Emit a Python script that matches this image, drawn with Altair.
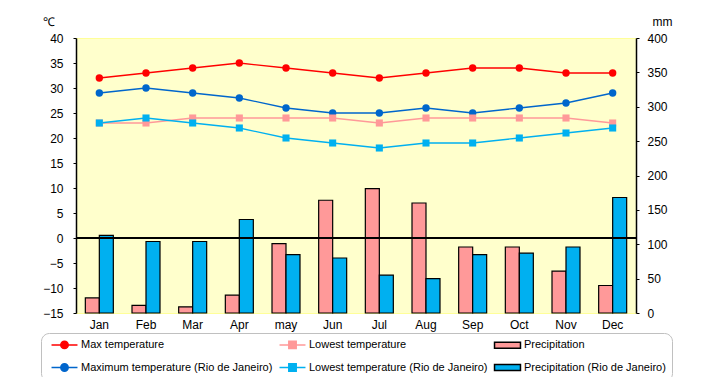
import altair as alt
import pandas as pd

months = ["Jan", "Feb", "Mar", "Apr", "may", "Jun", "Jul", "Aug", "Sep", "Oct", "Nov", "Dec"]
max_temp = [32, 33, 34, 35, 34, 33, 32, 33, 34, 34, 33, 33]
low_temp = [23, 23, 24, 24, 24, 24, 23, 24, 24, 24, 24, 23]
precip = [22, 11, 9, 26, 101, 164, 181, 160, 96, 96, 61, 40]
rio_max = [29, 30, 29, 28, 26, 25, 25, 26, 25, 26, 27, 29]
rio_low = [23, 24, 23, 22, 20, 19, 18, 19, 19, 20, 21, 22]
rio_precip = [113, 104, 104, 136, 85, 80, 55, 50, 85, 87, 96, 168]

series = [
    "Max temperature",
    "Lowest temperature",
    "Precipitation",
    "Maximum temperature (Rio de Janeiro)",
    "Lowest temperature (Rio de Janeiro)",
    "Precipitation (Rio de Janeiro)",
]
fills = ["#FF0000", "#FF9999", "#FF9999", "#0066CC", "#00B0F0", "#00B0F0"]
strokes = ["#FF0000", "#FF9999", "#000000", "#0066CC", "#00B0F0", "#000000"]

circ = "M-3.5,0H3.5M1,0A1,1,0,1,1,-1,0A1,1,0,1,1,1,0Z"
sq = "M-3.5,0H3.5M-1,-1H1V1H-1Z"
rect = "M-3.5,-0.8H3.5V0.8H-3.5Z"
shapes = [circ, sq, rect, circ, sq, rect]

temp_rows = []
for name, vals in [(series[0], max_temp), (series[1], low_temp), (series[3], rio_max), (series[4], rio_low)]:
    for m, v in zip(months, vals):
        temp_rows.append({"month": m, "series": name, "value": v})
temp_df = pd.DataFrame(temp_rows)

prec_rows = []
for name, vals in [(series[2], precip), (series[5], rio_precip)]:
    for m, v in zip(months, vals):
        prec_rows.append({"month": m, "series": name, "value": v})
prec_df = pd.DataFrame(prec_rows)

leg_df = pd.DataFrame({"series": series})

FONT = "Liberation Sans"

x_enc = alt.X(
    "month:N",
    sort=months,
    scale=alt.Scale(domain=months, paddingInner=0.4, paddingOuter=0.2),
    axis=alt.Axis(title=None, domain=False, ticks=False, labelAngle=0, labelPadding=6),
)
color_enc = alt.Color("series:N", scale=alt.Scale(domain=series, range=fills), legend=None)

temp_scale = alt.Scale(domain=[-15, 40], nice=False, zero=False)
temp_axis = alt.Axis(
    orient="left", values=list(range(-15, 41, 5)), title="℃", titleAngle=0,
    titleX=-28, titleY=-17, titleAlign="center", titleBaseline="middle",
    tickSize=3, labelPadding=10,
)
temp_y = alt.Y("value:Q", scale=temp_scale, axis=temp_axis)

legend_layer = (
    alt.Chart(leg_df)
    .transform_filter("false")
    .mark_point(filled=True, opacity=1, strokeWidth=1.5, size=55)
    .encode(
        shape=alt.Shape(
            "series:N", title=None,
            scale=alt.Scale(domain=series, range=shapes),
            legend=alt.Legend(
                orient="none", legendX=-35, legendY=295, direction="horizontal",
                columns=3, gridAlign="each", columnPadding=2, rowPadding=8,
                symbolSize=55, symbolStrokeWidth=1.5, symbolFillColor="white",
                symbolOffset=12, labelOffset=11, labelLimit=320,
                labelFont=FONT, labelFontSize=11, labelColor="black",
            ),
        ),
        fill=alt.Fill("series:N", title=None, scale=alt.Scale(domain=series, range=fills)),
        stroke=alt.Stroke("series:N", title=None, scale=alt.Scale(domain=series, range=strokes)),
    )
)

bars = (
    alt.Chart(prec_df)
    .mark_bar(stroke="black", strokeWidth=1.2, opacity=1)
    .encode(
        x=x_enc,
        xOffset=alt.XOffset("series:N", scale=alt.Scale(domain=[series[2], series[5]], paddingInner=0, paddingOuter=0)),
        y=alt.Y(
            "value:Q",
            scale=alt.Scale(domain=[0, 400], nice=False),
            axis=alt.Axis(
                orient="right", values=list(range(0, 401, 50)), title="mm", titleAngle=0,
                titleX=26, titleY=-17, titleAlign="center", titleBaseline="middle",
                tickSize=3, labelPadding=8,
            ),
        ),
        color=color_enc,
    )
)

zero_rule = alt.Chart(temp_df).mark_rule(color="black", strokeWidth=1.5).encode(
    y=alt.YDatum(0, type="quantitative", scale=temp_scale, axis=temp_axis)
)

lines = alt.Chart(temp_df).mark_line(strokeWidth=1.3).encode(x=x_enc, y=temp_y, color=color_enc)

circles = (
    alt.Chart(temp_df)
    .transform_filter(alt.FieldOneOfPredicate(field="series", oneOf=[series[0], series[3]]))
    .mark_point(filled=True, shape="circle", size=55, opacity=1)
    .encode(x=x_enc, y=temp_y, color=color_enc)
)
squares = (
    alt.Chart(temp_df)
    .transform_filter(alt.FieldOneOfPredicate(field="series", oneOf=[series[1], series[4]]))
    .mark_point(filled=True, shape="square", size=50, opacity=1)
    .encode(x=x_enc, y=temp_y, color=color_enc)
)

temp_group = alt.layer(zero_rule, lines, circles, squares)

chart = (
    alt.layer(legend_layer, bars, temp_group)
    .resolve_scale(y="independent")
    .properties(
        width=560, height=275,
        padding={"left": 68, "top": 30, "right": 76, "bottom": 64},
        autosize="none",
    )
    .configure_view(fill="#FFFFCC", stroke="#FFFF99")
    .configure_axis(
        labelFont=FONT, titleFont=FONT, labelFontSize=12, titleFontSize=12,
        titleFontWeight="normal", grid=False, domainColor="black", tickColor="black",
        labelColor="black", titleColor="black", domainWidth=1.5,
    )
    .configure_legend(strokeColor="#C0C0C0", cornerRadius=8, fillColor="white", padding=6)
)

chart.save("out.html", embed_options={"renderer": "svg", "actions": False})
